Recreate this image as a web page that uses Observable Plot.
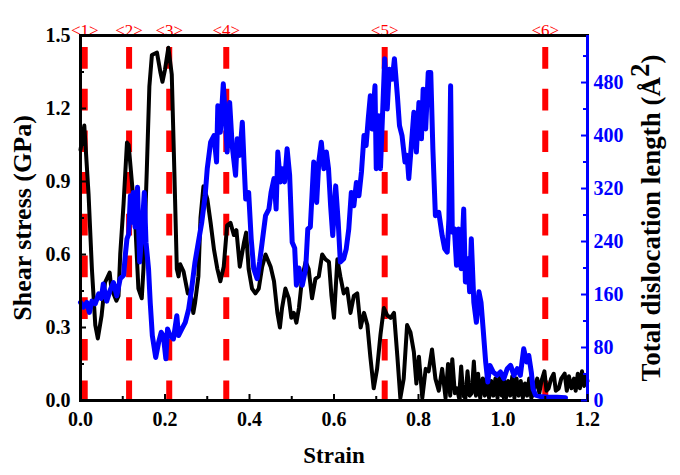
<!DOCTYPE html>
<html>
<head>
<meta charset="utf-8">
<script src="https://cdn.jsdelivr.net/npm/d3@7"></script>
<script src="https://cdn.jsdelivr.net/npm/@observablehq/plot@0.6"></script>
<style>
  html, body { margin: 0; padding: 0; background: #fff; }
  #chart svg, #chart svg text, #chart svg tspan { font-family: "Liberation Serif", "Times New Roman", serif !important; }
</style>
</head>
<body>
<div id="chart"></div>
<script>
// ---- Data ----
const xDomain = [0, 1.2];
const yDomain = [0, 1.5];
const rightMax = 551; // top of right axis (Å^2)
const xTicks = [0, 0.2, 0.4, 0.6, 0.8, 1.0, 1.2];
const xMinorTicks = [0.1, 0.3, 0.5, 0.7, 0.9, 1.1];
const yTicks = [0, 0.3, 0.6, 0.9, 1.2, 1.5];
const yMinorTicks = [0.15, 0.45, 0.75, 1.05, 1.35];
const rightTicks = [0, 80, 160, 240, 320, 400, 480];
const rightMinorTicks = [40, 120, 200, 280, 360, 440, 520];

const eventStrain = [0.01, 0.115, 0.21, 0.345, 0.72, 1.1];
const eventLabel = ["<1>", "<2>", "<3>", "<4>", "<5>", "<6>"];

const stressStrain = [0.000,0.009,0.019,0.027,0.035,0.041,0.050,0.058,0.069,0.073,0.085,0.090,0.094,0.102,0.110,0.114,0.121,0.129,0.137,0.145,0.149,0.157,0.163,0.169,0.181,0.189,0.194,0.200,0.208,0.216,0.222,0.228,0.232,0.236,0.244,0.254,0.260,0.267,0.271,0.279,0.284,0.291,0.300,0.308,0.316,0.324,0.331,0.339,0.347,0.355,0.363,0.369,0.377,0.387,0.392,0.398,0.406,0.414,0.422,0.430,0.438,0.450,0.458,0.466,0.472,0.477,0.485,0.493,0.499,0.505,0.511,0.517,0.525,0.533,0.540,0.548,0.556,0.564,0.572,0.580,0.588,0.594,0.600,0.608,0.615,0.623,0.631,0.639,0.647,0.655,0.663,0.671,0.679,0.686,0.694,0.702,0.710,0.718,0.726,0.734,0.742,0.750,0.757,0.765,0.773,0.781,0.789,0.795,0.801,0.809,0.817,0.824,0.832,0.840,0.848,0.856,0.864,0.870,0.875,0.880,0.886,0.891,0.896,0.901,0.906,0.911,0.916,0.921,0.926,0.931,0.936,0.941,0.946,0.952,0.957,0.962,0.967,0.972,0.977,0.982,0.987,0.992,0.997,1.002,1.007,1.012,1.017,1.022,1.027,1.032,1.037,1.042,1.047,1.052,1.057,1.062,1.067,1.072,1.077,1.081,1.086,1.091,1.098,1.103,1.108,1.114,1.120,1.125,1.132,1.138,1.146,1.151,1.156,1.162,1.168,1.172,1.177,1.182,1.187,1.192,1.197,1.200];
const stressValue = [1.03,1.13,0.85,0.54,0.31,0.255,0.35,0.485,0.526,0.46,0.41,0.43,0.60,0.81,1.06,1.05,0.91,0.75,0.46,0.42,0.54,0.95,1.29,1.42,1.43,1.35,1.31,1.36,1.45,1.34,0.95,0.54,0.51,0.56,0.53,0.44,0.45,0.36,0.40,0.51,0.75,0.88,0.83,0.73,0.62,0.54,0.49,0.55,0.72,0.73,0.68,0.70,0.55,0.65,0.69,0.54,0.46,0.44,0.46,0.55,0.60,0.55,0.49,0.36,0.30,0.38,0.46,0.42,0.34,0.36,0.32,0.38,0.51,0.57,0.54,0.42,0.50,0.51,0.60,0.58,0.57,0.43,0.34,0.58,0.51,0.44,0.46,0.36,0.43,0.44,0.30,0.36,0.31,0.18,0.05,0.13,0.27,0.38,0.35,0.34,0.36,0.18,0.01,0.09,0.31,0.28,0.20,0.07,0.18,0.01,0.13,0.12,0.21,0.09,0.04,0.13,0.01,0.15,0.02,0.17,0.03,0.05,0.01,0.14,0.02,0.01,0.12,0.02,0.03,0.16,0.02,0.11,0.01,0.09,0.02,0.10,0.01,0.08,0.02,0.09,0.01,0.10,0.02,0.09,0.01,0.08,0.02,0.10,0.01,0.09,0.02,0.08,0.01,0.07,0.02,0.09,0.01,0.03,0.07,0.09,0.03,0.08,0.12,0.04,0.05,0.09,0.11,0.04,0.05,0.09,0.11,0.04,0.10,0.05,0.09,0.04,0.11,0.05,0.12,0.06,0.10,0.08];

const dislocStrain = [0.000,0.007,0.015,0.021,0.027,0.035,0.043,0.049,0.054,0.062,0.070,0.078,0.086,0.094,0.102,0.106,0.110,0.114,0.118,0.121,0.125,0.129,0.135,0.140,0.145,0.151,0.155,0.161,0.165,0.170,0.178,0.185,0.191,0.196,0.202,0.206,0.212,0.220,0.228,0.232,0.240,0.248,0.256,0.263,0.271,0.279,0.287,0.295,0.300,0.303,0.308,0.316,0.322,0.325,0.331,0.338,0.343,0.347,0.353,0.359,0.367,0.371,0.377,0.383,0.387,0.391,0.398,0.404,0.410,0.418,0.424,0.430,0.438,0.446,0.451,0.458,0.463,0.467,0.473,0.477,0.483,0.489,0.495,0.501,0.507,0.511,0.517,0.525,0.533,0.538,0.544,0.552,0.559,0.564,0.570,0.576,0.582,0.587,0.592,0.597,0.604,0.610,0.615,0.623,0.629,0.635,0.641,0.647,0.653,0.659,0.665,0.671,0.676,0.681,0.686,0.690,0.697,0.700,0.706,0.710,0.716,0.720,0.726,0.731,0.738,0.743,0.750,0.755,0.761,0.768,0.773,0.777,0.783,0.789,0.795,0.801,0.807,0.811,0.817,0.823,0.829,0.834,0.840,0.848,0.856,0.862,0.868,0.872,0.876,0.880,0.885,0.890,0.895,0.901,0.907,0.911,0.917,0.921,0.925,0.931,0.937,0.943,0.948,0.953,0.959,0.964,0.969,0.977,0.986,0.994,1.002,1.010,1.018,1.026,1.034,1.041,1.049,1.056,1.061,1.067,1.071,1.077,1.089,1.108,1.128,1.148];
const dislocValue = [148,141,148,133,150,146,161,154,176,150,166,178,158,184,189,219,244,251,309,269,314,262,322,209,249,314,239,199,148,98,65,88,103,98,63,108,98,93,128,98,108,118,138,169,209,239,269,309,350,365,390,400,360,445,405,478,425,375,450,385,340,395,370,420,360,304,314,244,199,184,209,239,279,289,314,335,289,375,330,350,330,380,340,239,230,174,200,174,199,259,262,360,299,360,390,350,375,350,294,249,324,269,209,214,229,259,314,294,329,309,345,400,385,425,460,410,475,350,430,350,450,516,440,500,485,516,460,415,400,360,370,335,385,435,375,450,395,470,410,495,495,380,279,284,249,229,224,274,475,254,259,204,259,199,289,179,214,164,244,148,118,164,148,108,58,28,53,43,38,43,33,48,53,38,48,38,78,58,68,43,18,8,6,5,5,4];

// ---- Build tables ----
const k = yDomain[1] / rightMax;
const stress = stressStrain.map((s, i) => ({strain: s, value: stressValue[i]}));
const disloc = dislocStrain.map((s, i) => ({strain: s, value: dislocValue[i] * k}));
const events = eventStrain.map((s, i) => ({strain: s, label: eventLabel[i]}));

const W = 680, H = 475, mL = 80, mR = 93, mT = 35, mB = 75;
const fw = W - mL - mR, fh = H - mT - mB;
const serif = "Liberation Serif";

const chart = Plot.plot({
  width: W, height: H,
  marginLeft: mL, marginRight: mR, marginTop: mT, marginBottom: mB,
  x: {domain: xDomain},
  y: {domain: yDomain},
  style: {background: "#fff", color: "#000"},
  marks: [
    // event dashed lines
    Plot.ruleX(events, {x: "strain", stroke: "#ff0000", strokeWidth: 6, strokeDasharray: "21.7,20", insetTop: 12}),
    Plot.text(events, {x: "strain", text: "label", frameAnchor: "top", textAnchor: "middle", dy: -12, fill: "#ff0000", fontSize: 17, fontWeight: "normal", fontFamily: serif}),
    // data lines
    Plot.line(stress, {x: "strain", y: "value", stroke: "#000", strokeWidth: 4, curve: "linear"}),
    Plot.line(disloc, {x: "strain", y: "value", stroke: "#0000ff", strokeWidth: 5, curve: "linear"}),
    // frame
    Plot.frame({stroke: "#000", strokeWidth: 3}),
    Plot.ruleX([xDomain[1]], {stroke: "#0000ff", strokeWidth: 3}),
    // inward ticks
    Plot.ruleX(xTicks, {insetTop: fh - 6, stroke: "#000", strokeWidth: 2}),
    Plot.ruleX(xMinorTicks, {insetTop: fh - 4, stroke: "#000", strokeWidth: 2}),
    Plot.ruleY(yTicks, {insetRight: fw - 6, stroke: "#000", strokeWidth: 2}),
    Plot.ruleY(yMinorTicks, {insetRight: fw - 4, stroke: "#000", strokeWidth: 2}),
    Plot.ruleY(rightTicks.map(v => v * k), {insetLeft: fw - 6, stroke: "#0000ff", strokeWidth: 2}),
    Plot.ruleY(rightMinorTicks.map(v => v * k), {insetLeft: fw - 4, stroke: "#0000ff", strokeWidth: 2}),
    // tick values
    Plot.axisX({ticks: xTicks, tickFormat: d => d.toFixed(1), tickSize: 0, tickPadding: 11, label: null, fontSize: 20, fontWeight: "bold", fontFamily: serif}),
    Plot.axisY({anchor: "left", ticks: yTicks, tickFormat: d => d.toFixed(1), tickSize: 0, tickPadding: 10, label: null, fontSize: 20, fontWeight: "bold", fontFamily: serif}),
    Plot.axisY({anchor: "right", ticks: rightTicks.map(v => v * k), tickFormat: d => String(Math.round(d / k)), tickSize: 0, tickPadding: 6, label: null, fill: "#0000ff", fontSize: 20, fontWeight: "bold", fontFamily: serif}),
    // axis titles
    Plot.text(["Strain"], {frameAnchor: "bottom", textAnchor: "middle", dy: 62, fontSize: 23, fontWeight: "bold", fontFamily: serif}),
    Plot.text(["Shear stress (GPa)"], {frameAnchor: "left", textAnchor: "middle", dx: -58, rotate: -90, fontSize: 26, fontWeight: "bold", fontFamily: serif}),
    Plot.text(["Total dislocation length (Å2)"], {frameAnchor: "right", textAnchor: "middle", dx: 64, rotate: -90, fontSize: 27, fontWeight: "bold", fontFamily: serif})
  ]
});

// superscript the "2" of Å2
chart.querySelectorAll("text").forEach(t => {
  if (t.textContent === "Total dislocation length (Å2)") {
    t.textContent = "";
    const ns = "http://www.w3.org/2000/svg";
    const a = document.createElementNS(ns, "tspan"); a.textContent = "Total dislocation length (Å";
    const b = document.createElementNS(ns, "tspan"); b.textContent = "2"; b.setAttribute("dy", "-0.4em");
    const c = document.createElementNS(ns, "tspan"); c.textContent = ")"; c.setAttribute("dy", "0.4em");
    t.append(a, b, c);
  }
});

document.getElementById("chart").appendChild(chart);
</script>
</body>
</html>
